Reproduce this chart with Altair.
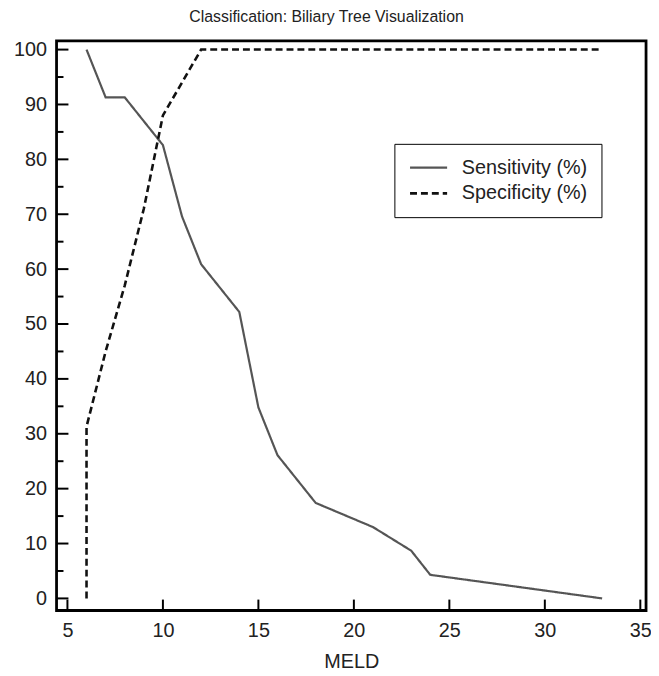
import altair as alt
import pandas as pd

# Sensitivity curve (criterion values of MELD)
meld = [6, 7, 8, 10, 11, 12, 14, 15, 16, 18, 21, 23, 24, 33]
sensitivity = [100, 91.3, 91.3, 82.6, 69.6, 60.9, 52.2, 34.8, 26.1, 17.4, 13.0, 8.7, 4.3, 0]

# Specificity curve
spec_meld = [6, 6, 7, 8, 9, 10, 12, 33]
specificity = [0, 31.3, 45, 57, 71, 88, 100, 100]

x_ticks = [5, 10, 15, 20, 25, 30, 35]
y_major = [0, 10, 20, 30, 40, 50, 60, 70, 80, 90, 100]
y_minor = [5, 15, 25, 35, 45, 55, 65, 75, 85, 95]

series_names = ["Sensitivity (%)", "Specificity (%)"]

rows = []
for i, (m, v) in enumerate(zip(meld, sensitivity)):
    rows.append({"MELD": m, "value": v, "series": series_names[0], "order": i})
for i, (m, v) in enumerate(zip(spec_meld, specificity)):
    rows.append({"MELD": m, "value": v, "series": series_names[1], "order": i})
df = pd.DataFrame(rows)

W, H = 595, 575
FONT = "Liberation Sans"

xscale = alt.Scale(domain=[4.43, 35.3], nice=False, zero=False)
yscale = alt.Scale(domain=[-2.2, 101.6], nice=False, zero=False)

lines = alt.Chart(df).mark_line().encode(
    x=alt.X("MELD:Q", scale=xscale,
            axis=alt.Axis(values=x_ticks, ticks=False, domain=False, grid=False,
                          labelPadding=10, labelFontSize=20, titleFontSize=20,
                          titleFontWeight="normal", titlePadding=12, labelFont=FONT,
                          titleFont=FONT, labelColor="#222", titleColor="#222",
                          title="MELD")),
    y=alt.Y("value:Q", scale=yscale,
            axis=alt.Axis(values=y_major, ticks=False, domain=False, grid=False,
                          labelPadding=10, labelFontSize=20, labelFont=FONT,
                          labelColor="#222", title=None)),
    color=alt.Color("series:N",
                    scale=alt.Scale(domain=series_names, range=["#555555", "#111111"]),
                    legend=alt.Legend(title=None, orient="none", legendX=341, legendY=104,
                                      symbolType="stroke", symbolSize=1400,
                                      clipHeight=20,
                                      labelFontSize=20, labelFont=FONT, labelColor="#222",
                                      labelOffset=13,
                                      strokeColor="black", fillColor="white",
                                      padding=14, rowPadding=6, symbolStrokeWidth=1.6)),
    strokeDash=alt.StrokeDash("series:N",
                              scale=alt.Scale(domain=series_names, range=[[1, 0], [7, 4]]),
                              legend=None),
    strokeWidth=alt.StrokeWidth("series:N",
                                scale=alt.Scale(domain=series_names, range=[2.2, 2.6]),
                                legend=None),
    order="order:Q",
)

xt = alt.Chart(pd.DataFrame({"t": x_ticks})).mark_rule(color="black", strokeWidth=2).encode(
    x=alt.X("t:Q", scale=xscale), y=alt.value(H), y2=alt.value(H - 11))
yt = alt.Chart(pd.DataFrame({"t": y_major})).mark_rule(color="black", strokeWidth=2).encode(
    y=alt.Y("t:Q", scale=yscale), x=alt.value(0), x2=alt.value(12))
ytm = alt.Chart(pd.DataFrame({"t": y_minor})).mark_rule(color="black", strokeWidth=2).encode(
    y=alt.Y("t:Q", scale=yscale), x=alt.value(0), x2=alt.value(7))

chart = alt.layer(xt, yt, ytm, lines).properties(
    width=W, height=H,
    title=alt.TitleParams("Classification: Biliary Tree Visualization", fontSize=16,
                          fontWeight="normal", font=FONT, color="#222", offset=15,
                          dx=-25),
    autosize=alt.AutoSizeParams(type="none"),
    padding={"left": 49, "top": 30, "right": 5, "bottom": 62},
).configure_view(stroke="black", strokeWidth=2.8)

chart.save("out.html", embed_options={"renderer": "svg", "actions": False})
